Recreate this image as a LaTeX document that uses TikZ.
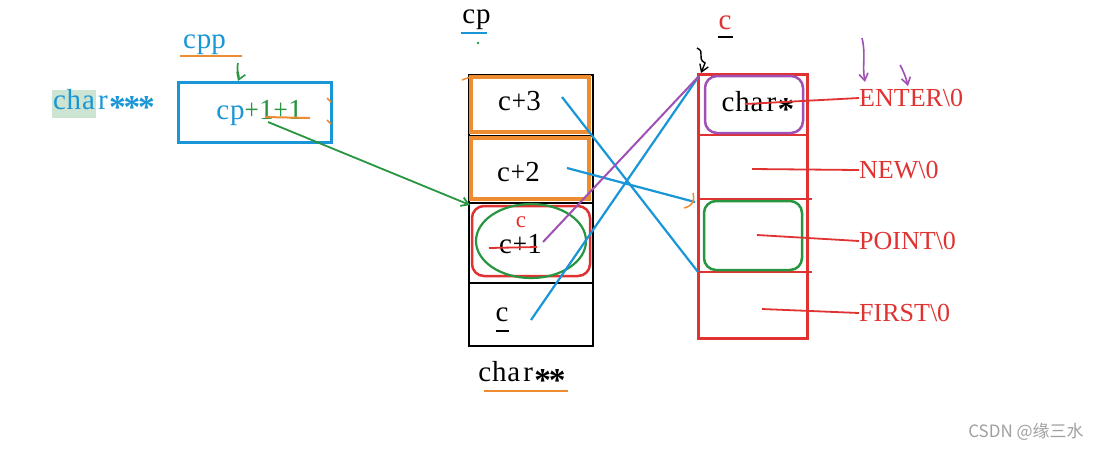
\documentclass[tikz,border=0pt]{standalone}
\usepackage{fontspec}
\usepackage{graphicx}
\setmainfont{Liberation Serif}
\newfontfamily\cjk{Noto Sans CJK SC}
\usetikzlibrary{arrows.meta}
\definecolor{bl}{RGB}{25,150,215}
\definecolor{orc}{RGB}{238,140,50}
\definecolor{rd}{RGB}{225,50,50}
\definecolor{gr}{RGB}{40,150,65}
\definecolor{pu}{RGB}{160,80,180}
\definecolor{hl}{RGB}{205,228,210}
\definecolor{wm}{RGB}{160,160,160}
\newlength\mcw
\newcommand\myast{\makebox[0.5em]{\raisebox{-0.34em}{\bfseries\scalebox{1.15}{*}}}}
\newcommand\monochar[1]{\settowidth\mcw{#1}\ifdim\mcw>0.5em\makebox[0.5em]{\resizebox{0.49em}{\height}{#1}}\else\makebox[0.5em]{#1}\fi}
\def\monoloop#1{\ifx\relax#1\else\monochar{#1}\expandafter\monoloop\fi}
\newcommand\mono[1]{\monoloop#1\relax}
\begin{document}
\begin{tikzpicture}[x=1pt,y=-1pt,
  lbl/.style={inner sep=0pt, font=\fontsize{29}{32}\selectfont},
  rlbl/.style={inner sep=0pt, anchor=west, text=rd, font=\fontsize{26}{30}\selectfont},
  cellbox/.style={draw=black, line width=2pt, minimum width=124pt, anchor=north west, inner sep=0pt},
  bline/.style={draw=bl, line width=2.2pt},
  rline/.style={draw=rd, line width=1.8pt},
  barb/.style={-{Straight Barb[length=7pt,width=9pt]}}]
\useasboundingbox (0,0) rectangle (1105,451);
\fill[white] (0,0) rectangle (1105,451);

% ---------- left group ----------
\fill[hl] (52,90) rectangle (96,118);
\node[lbl, text=bl, anchor=west] (ch3) at (52,104) {\mono{char\myast\myast\myast}};
\node[lbl, text=bl] (cpp) at (204,45) {\mono{cpp}};
\draw[orc, line width=2pt] (180,56) -- (242,56);
\node[draw=bl, line width=2.5pt, minimum width=153pt, minimum height=60pt, anchor=north west, inner sep=0pt] (ppbox) at (177,81) {};
\coordinate (gs) at (238,63);
\draw[gr, line width=1.6pt, barb] (gs) .. controls (236,72) and (240,76) .. (ppbox.north -| gs);
\node[lbl] (cpexpr) at (259,113) {\textcolor{bl}{\mono{cp}}\textcolor{gr}{\mono{+1+1}}};
\draw[orc, line width=2pt] (265,117) -- (310,118);
\draw[orc, line width=1.5pt] (327,98) -- (331,102);
\draw[orc, line width=1.5pt] (327,120) -- (331,124);

% ---------- middle column ----------
\node[lbl] (cptop) at (476,20) {\mono{cp}};
\draw[bl, line width=2pt] (461,33) -- (487,33);
\fill[gr] (478,43) circle (1.3);
\node[cellbox, minimum height=61pt] (r3) at (468,74) {};
\node[cellbox, minimum height=67pt] (r2) at (468,135) {};
\node[cellbox, minimum height=80pt] (r1) at (468,202) {};
\node[cellbox, minimum height=63pt] (r0) at (468,282) {};
\draw[orc, line width=3.2pt] (471,77) rectangle (589,132);
\draw[orc, line width=3.2pt] (471,138) rectangle (589,199);
\draw[orc, line width=1.5pt] (462,80) -- (470,77);
\draw[rd, line width=2.5pt, rounded corners=12pt] (472,206) rectangle (590,276);
\draw[gr, line width=2.2pt] (531,241) ellipse [x radius=55, y radius=37];
\node[lbl] (t3) at (519,101) {\mono{c+3}};
\node[lbl] (t2) at (518,172) {\mono{c+2}};
\node[lbl, text=rd, font=\fontsize{23}{26}\selectfont] (tcr) at (521,222) {c};
\node[lbl] (t1) at (520,244) {\mono{c+1}};
\draw[rd, line width=1.8pt] (489,248) -- (537,247);
\node[lbl] (t0) at (502,315) {c};
\draw[black, line width=2pt] (496,331) -- (509,331);
\node[lbl] (ch2) at (521,376) {\mono{char\myast\myast}};
\draw[orc, line width=2pt] (484,391) -- (568,391);

% ---------- right column ----------
\node[lbl, text=rd] (crtop) at (725,23) {c};
\draw[black, line width=2pt] (718,37) -- (733,37);
\draw[black, line width=1.4pt, barb] (697,48) .. controls (706,52) and (696,58) .. (705,63) -- (701,73);
\node[draw=rd, line width=2.5pt, minimum width=109pt, minimum height=264pt, anchor=north west, inner sep=0pt] (rc) at (697,73) {};
\draw[rd, line width=1.5pt] (697,135) -- (806,135);
\draw[rd, line width=1.5pt] (697,199) -- (812,199);
\draw[rd, line width=1.5pt] (697,272) -- (812,272);
\draw[pu, line width=2.5pt, rounded corners=12pt] (705,76) rectangle (803,133);
\draw[gr, line width=2.5pt, rounded corners=12pt] (704,201) rectangle (802,270);
\node[lbl] (chs) at (757,106) {\mono{char\myast}};
\node[rlbl] (s1) at (859,98) {ENTER\textbackslash 0};
\node[rlbl] (s2) at (859,170) {NEW\textbackslash 0};
\node[rlbl] (s3) at (859,241) {POINT\textbackslash 0};
\node[rlbl] (s4) at (859,313) {FIRST\textbackslash 0};
\coordinate (q1) at (745,104);
\coordinate (q2) at (752,169);
\coordinate (q3) at (757,235);
\coordinate (q4) at (762,309);
\draw[rline] (q1) -- (s1.west);
\draw[rline] (q2) -- (s2.west);
\draw[rline] (q3) -- (s3.west);
\draw[rline] (q4) -- (s4.west);
\draw[pu, line width=1.6pt, barb] (862,38) .. controls (866,55) and (862,65) .. (865,82);
\draw[pu, line width=1.6pt, barb] (900,65) .. controls (904,72) and (906,78) .. (908,86);

% ---------- connectors ----------
\coordinate (a3) at (562,97);
\coordinate (a2) at (567,168);
\coordinate (a1) at (543,242);
\coordinate (a0) at (531,320);
\coordinate (e3) at (698,272);
\coordinate (e2) at (695,202);
\coordinate (etop) at (699,76);
\coordinate (g0) at (268,122);
\coordinate (g1) at (470,205);
\draw[bline] (a3) -- (e3);
\draw[bline] (a2) -- (e2);
\draw[bline] (a0) -- (etop);
\draw[pu, line width=2pt] (a1) -- (etop);
\draw[gr, line width=1.8pt, barb] (g0) -- (g1);
\draw[orc, line width=1.5pt] (684,208) .. controls (692,206) and (695,202) .. (693,193);

% ---------- watermark ----------
\node[inner sep=0pt, text=wm, font=\cjk\fontsize{17}{20}\selectfont] (wmk) at (1026,432) {CSDN @缘三水};
\end{tikzpicture}
\end{document}
